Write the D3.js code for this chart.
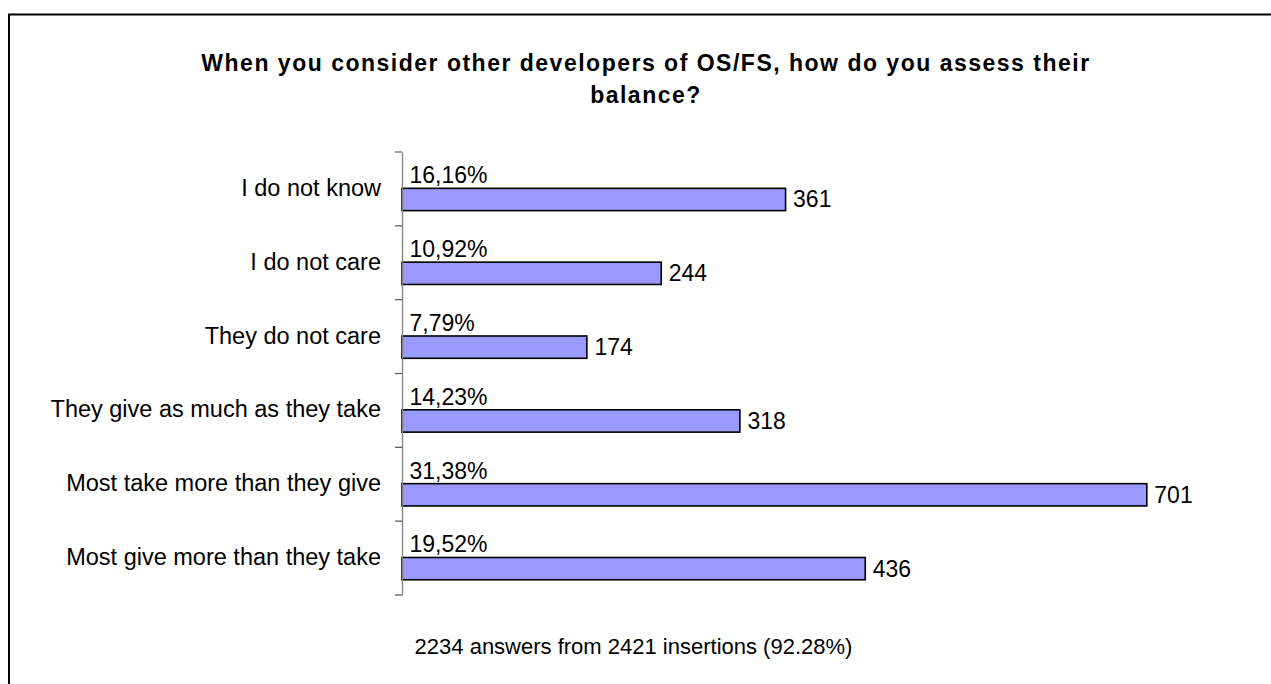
<!DOCTYPE html>
<html>
<head>
<meta charset="utf-8">
<script src="https://cdn.jsdelivr.net/npm/d3@7/dist/d3.min.js"></script>
<style>
  html, body { margin: 0; padding: 0; background: #fff; }
  svg { display: block; font-family: "Liberation Sans", Arial, sans-serif; }
</style>
</head>
<body>
<svg id="chart" width="1271" height="684"></svg>
<script>
const categories = [
  "I do not know",
  "I do not care",
  "They do not care",
  "They give as much as they take",
  "Most take more than they give",
  "Most give more than they take"
];
const counts = [361, 244, 174, 318, 701, 436];
const percentLabels = ["16,16%", "10,92%", "7,79%", "14,23%", "31,38%", "19,52%"];
const titleLines = [
  "When you consider other developers of OS/FS, how do you assess their",
  "balance?"
];
const footnote = "2234 answers from 2421 insertions (92.28%)";
const xDomain = [0, 800];

const svg = d3.select("#chart");

// outer frame
svg.append("rect")
  .attr("x", 9).attr("y", 14.5)
  .attr("width", 1320).attr("height", 720)
  .attr("fill", "none").attr("stroke", "#000").attr("stroke-width", 2);

// title
const title = svg.append("text")
  .attr("text-anchor", "middle")
  .attr("font-weight", "bold")
  .attr("font-size", 23)
  .attr("letter-spacing", 1.5)
  .attr("fill", "#000");
titleLines.forEach((t, i) => {
  title.append("tspan").attr("x", 646).attr("y", 70.5 + i * 32.8).text(t);
});

const x = d3.scaleLinear().domain(xDomain).range([402, 1252]);
const y = d3.scaleBand().domain(categories).range([152, 595]).paddingInner(0).paddingOuter(0);

const data = categories.map((c, i) => ({ cat: c, count: counts[i], pct: percentLabels[i] }));
const barTop = d => y(d.cat) + y.bandwidth() * 0.492;
const barH = y.bandwidth() * 0.302;

// bars
svg.append("g").selectAll("rect")
  .data(data).join("rect")
  .attr("x", x(0))
  .attr("y", barTop)
  .attr("width", d => x(d.count) - x(0))
  .attr("height", barH)
  .attr("fill", "#9999FF")
  .attr("stroke", "#000")
  .attr("stroke-width", 1.6);

// y axis
const axis = d3.axisLeft(y).tickSize(0).tickFormat("");
const gAxis = svg.append("g").attr("transform", `translate(${x(0)},0)`).call(axis);
gAxis.select(".domain").attr("stroke", "#808080").attr("stroke-width", 1.3);
// boundary ticks between categories (Excel style)
const bounds = categories.map(c => y(c)).concat([y.range()[1]]);
svg.append("g").selectAll("line")
  .data(bounds).join("line")
  .attr("x1", x(0) - 7).attr("x2", x(0))
  .attr("y1", d => d).attr("y2", d => d)
  .attr("stroke", "#606060").attr("stroke-width", 1.3);

// category labels
svg.append("g").selectAll("text")
  .data(data).join("text")
  .attr("x", x(0) - 21)
  .attr("y", d => y(d.cat) + y.bandwidth() / 2 + 7)
  .attr("text-anchor", "end")
  .attr("font-size", 23.5)
  .attr("fill", "#000")
  .text(d => d.cat);

// percent labels
svg.append("g").selectAll("text")
  .data(data).join("text")
  .attr("x", x(0) + 7.5)
  .attr("y", d => barTop(d) - 5)
  .attr("font-size", 23)
  .attr("fill", "#000")
  .text(d => d.pct);

// count labels
svg.append("g").selectAll("text")
  .data(data).join("text")
  .attr("x", d => x(d.count) + 7.5)
  .attr("y", d => barTop(d) + barH / 2 + 8)
  .attr("font-size", 23)
  .attr("fill", "#000")
  .text(d => d.count);

// footnote
svg.append("text")
  .attr("x", 633.5).attr("y", 654)
  .attr("text-anchor", "middle")
  .attr("font-size", 22)
  .attr("fill", "#000")
  .text(footnote);
</script>
</body>
</html>
